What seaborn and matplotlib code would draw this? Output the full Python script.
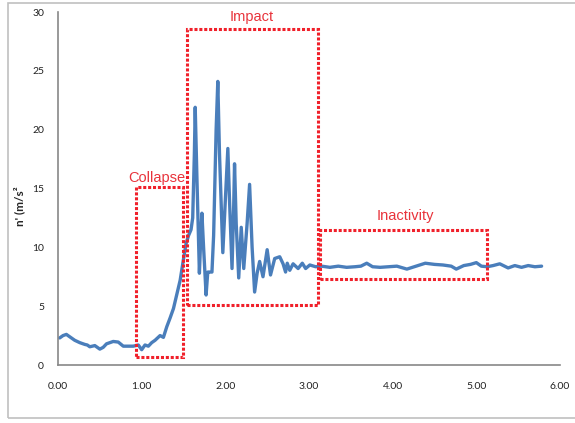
"""
Acceleration trace with fall phases (collapse / impact / inactivity)
"""

import matplotlib
matplotlib.use("Agg")
import matplotlib.pyplot as plt
import matplotlib.patches as patches
import seaborn as sns
import pandas as pd

# time (s) and acceleration magnitude (m/s^2)
time_s = [0.02, 0.06, 0.10, 0.14, 0.20, 0.26, 0.32, 0.35, 0.38, 0.44, 0.50, 0.54,
          0.58, 0.66, 0.72, 0.78, 0.84, 0.90, 0.96, 1.00, 1.04, 1.08, 1.12, 1.16,
          1.22, 1.26, 1.30, 1.34, 1.38, 1.42, 1.46, 1.50, 1.53, 1.56, 1.59, 1.61,
          1.63, 1.64, 1.66, 1.69, 1.71, 1.72, 1.74, 1.77, 1.79, 1.81, 1.84, 1.86,
          1.89, 1.91, 1.93, 1.97, 2.00, 2.03, 2.05, 2.08, 2.10, 2.11, 2.13, 2.16,
          2.19, 2.22, 2.26, 2.29, 2.32, 2.35, 2.38, 2.41, 2.45, 2.50, 2.54, 2.59,
          2.65, 2.69, 2.72, 2.74, 2.77, 2.81, 2.87, 2.92, 2.96, 3.01, 3.08, 3.15,
          3.25, 3.35, 3.45, 3.55, 3.62, 3.69, 3.76, 3.85, 3.95, 4.05, 4.17, 4.28,
          4.39, 4.50, 4.60, 4.70, 4.76, 4.85, 4.93, 5.00, 5.06, 5.13, 5.20, 5.28,
          5.38, 5.46, 5.54, 5.62, 5.70, 5.78]
accel = [2.3, 2.5, 2.6, 2.4, 2.1, 1.9, 1.75, 1.7, 1.55, 1.65, 1.35, 1.5,
         1.8, 2.0, 1.95, 1.6, 1.6, 1.6, 1.7, 1.3, 1.7, 1.6, 1.9, 2.1,
         2.5, 2.35, 3.25, 4.0, 4.8, 6.0, 7.2, 9.0, 10.3, 11.0, 11.5, 12.5,
         18.0, 21.9, 16.0, 7.8, 11.5, 12.9, 10.0, 5.95, 7.9, 7.9, 7.9, 11.0,
         20.0, 24.1, 18.0, 9.55, 14.0, 18.4, 14.0, 8.2, 13.5, 17.1, 12.0, 7.4,
         11.7, 8.2, 12.0, 15.35, 10.0, 6.2, 7.8, 8.8, 7.5, 9.8, 7.65, 9.05,
         9.2, 8.6, 7.9, 8.65, 8.05, 8.6, 8.2, 8.65, 8.2, 8.5, 8.35, 8.4,
         8.3, 8.4, 8.3, 8.35, 8.4, 8.65, 8.35, 8.3, 8.35, 8.4, 8.15, 8.4,
         8.65, 8.55, 8.5, 8.4, 8.15, 8.45, 8.55, 8.7, 8.4, 8.35, 8.45, 8.6,
         8.25, 8.45, 8.3, 8.45, 8.35, 8.4]

# phase boxes: (x0, x1, y0, y1) in data units and their labels
phase_names = ["Collapse", "Impact", "Inactivity"]
phase_x = [(0.93, 1.49), (1.54, 3.11), (3.13, 5.13)]
phase_y = [(0.68, 15.1), (5.1, 28.55), (7.3, 11.5)]
label_pos = [(1.18, 15.9), (2.32, 29.6), (4.15, 12.65)]

sns.set_style("white")
plt.rcParams['font.family'] = ['Liberation Sans', 'DejaVu Sans']

df = pd.DataFrame({'t': time_s, 'a': accel})

fig = plt.figure(figsize=(5.75, 4.23), dpi=100)
ax = fig.add_axes([58 / 575, 1 - 365 / 423, (560 - 58) / 575, (365 - 12) / 423])

sns.lineplot(data=df, x='t', y='a', ax=ax, sort=False, color='#4A7EBB', lw=2.4)

red = '#F0202A'
for name, (x0, x1), (y0, y1), (lx, ly) in zip(phase_names, phase_x, phase_y, label_pos):
    rect = patches.Rectangle((x0, y0), x1 - x0, y1 - y0, fill=False,
                             edgecolor=red, lw=2.2, linestyle=(0, (1, 0.6)), zorder=3)
    ax.add_patch(rect)
    ax.text(lx, ly, name, color='#E8333B', fontsize=10.5, ha='center', va='center',
            clip_on=False)

ax.set_xlim(0, 6)
ax.set_ylim(0, 30)
ax.set_xticks([0, 1, 2, 3, 4, 5, 6])
ax.set_xticklabels([f"{v:.2f}" for v in [0, 1, 2, 3, 4, 5, 6]])
ax.set_yticks([0, 5, 10, 15, 20, 25, 30])
ax.set_xlabel('')
ax.set_ylabel("n' (m/s\u00b2", fontsize=8.5, fontweight='bold',
              family=['Lato', 'DejaVu Sans'])
ax.yaxis.set_label_coords(-0.066, 0.45)

for side in ['top', 'right']:
    ax.spines[side].set_visible(False)
for side in ['left', 'bottom']:
    ax.spines[side].set_color('#888888')
    ax.spines[side].set_linewidth(1.2)
ax.tick_params(axis='both', direction='out', length=4, width=1, color='#888888',
               labelsize=7.5, labelcolor='#222222', pad=6)
ax.tick_params(axis='x', pad=8)
for lbl in ax.get_xticklabels() + ax.get_yticklabels():
    lbl.set_family(['Lato', 'DejaVu Sans'])

# chart area frame
frame = patches.Rectangle((8 / 575, 5 / 423), 1.2, 1 - 8 / 423, transform=fig.transFigure,
                          fill=False, edgecolor='#C0C0C0', lw=1.2, zorder=0)
fig.patches.append(frame)

fig.savefig('out.png', dpi=100)
